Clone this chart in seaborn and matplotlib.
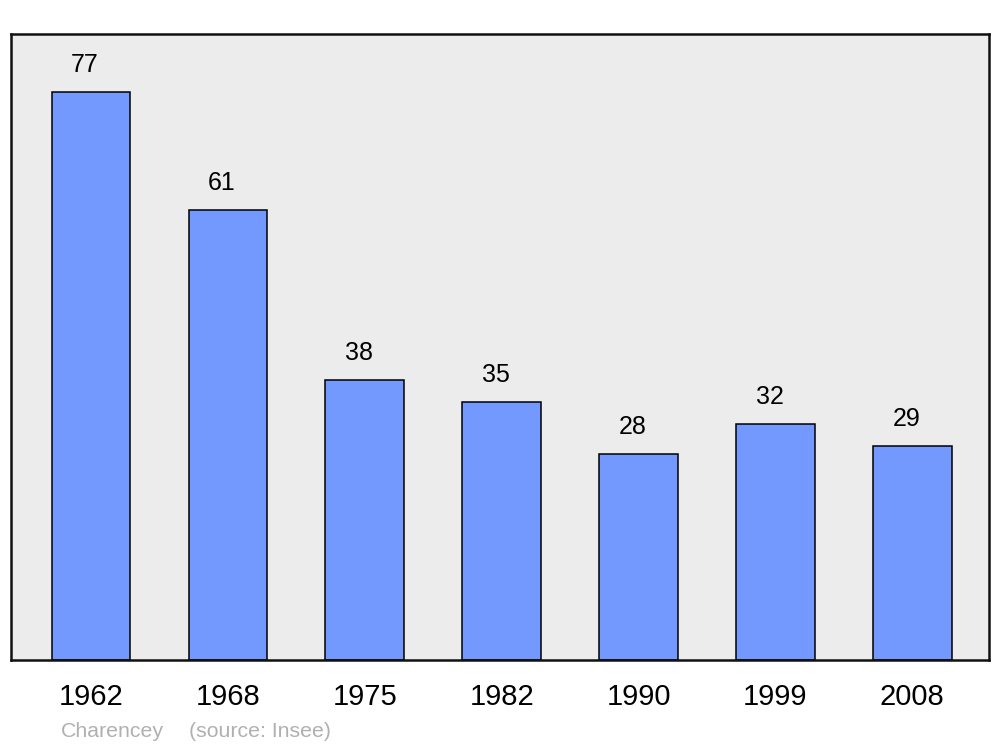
import pandas as pd
import seaborn as sns
import matplotlib.pyplot as plt

# Population data
years = ["1962", "1968", "1975", "1982", "1990", "1999", "2008"]
population = [77, 61, 38, 35, 28, 32, 29]

df = pd.DataFrame({"year": years, "pop": population})

sns.set_style("white")
plt.rcParams['font.family'] = ['Liberation Sans', 'DejaVu Sans']
plt.rcParams['text.color'] = 'black'
plt.rcParams['xtick.color'] = 'black'

fig = plt.figure(figsize=(10, 7.47), dpi=100)
ax = fig.add_axes([0.011, 0.1165, 0.978, 0.838])
ax.set_facecolor("#ececec")

sns.barplot(data=df, x="year", y="pop", color="#7399ff", saturation=1,
            width=0.575, edgecolor="black", linewidth=1.1, ax=ax)

# value labels above the bars
for i, v in enumerate(population):
    ax.annotate(str(v), (i, v), xytext=(-6, 15), textcoords="offset pixels",
                ha="center", va="bottom", fontsize=18, color="black")

ax.set_xlim(-0.585, 6.56)
ax.set_ylim(0, 84.9)
ax.set_yticks([])
ax.set_xlabel("")
ax.set_ylabel("")
ax.tick_params(axis="x", length=0, pad=16.5, labelsize=21, labelcolor="black")
for s in ax.spines.values():
    s.set_visible(True)
    s.set_linewidth(1.8)
    s.set_color("#111111")

fig.text(0.061, 0.021, "Charencey", color="#b0b0b0", fontsize=15.3, va="center")
fig.text(0.189, 0.021, "(source: Insee)", color="#b0b0b0", fontsize=15.3, va="center")

fig.savefig("out.png", dpi=100)
